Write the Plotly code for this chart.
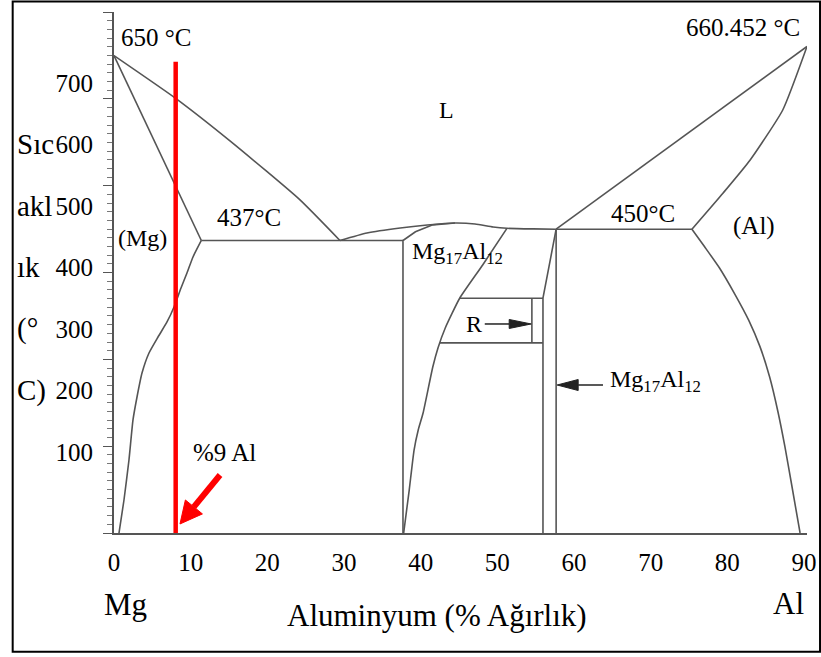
import math
import plotly.graph_objects as go

# ---------------- figure geometry ----------------
W, H = 821, 657
ML, MR, MT, MB = 114, 14, 12, 124
X_RANGE = [0, 100]          # composition scale of the drawing (at.% Al)
Y_RANGE = [100, 700.2]      # temperature, °C

# printed tick labels (their own linear scale over the same axis)
x_tick_labels = [0, 10, 20, 30, 40, 50, 60, 70, 80, 90]
x_label_range = [0, 90.39]
y_tick_labels = [100, 200, 300, 400, 500, 600, 700]
y_label_range = [-31.7, 815.4]

# ---------------- phase boundaries (x: % Al, t: °C) ----------------
mg_liquidus_x = [0, 8.9, 17, 26.8, 32.6]
mg_liquidus_t = [650, 600.7, 550, 484, 437]
mg_solidus_x = [0, 12.6]
mg_solidus_t = [650, 437]
mg_solvus_x = [12.6, 11.4, 10.53, 9.67, 8.66, 7.65, 6.35, 5.05, 4.04, 3.32, 2.74, 2.16, 1.44, 0.72]
mg_solvus_t = [437, 418, 399.5, 382.3, 360.4, 343.1, 325.8, 307.4, 284.3, 256.7, 230.2, 184.1, 138, 100]
eut1_x = [12.6, 41.7]
eut1_t = [437, 437]
gamma_left_x = [41.7, 41.7, 43.5, 46, 49.2]
gamma_left_t = [100, 437, 447, 455, 457.1]
mid_liquidus_x = [32.6, 36.5, 41.3, 45.2, 49.2, 52.1, 54.7, 56.7, 60.5, 63.8]
mid_liquidus_t = [437, 445.6, 451.4, 454.8, 457.1, 456, 452.5, 451, 450.3, 450]
gamma_right_x = [56.7, 53.2, 49.9, 47.8, 46.75, 46.0, 44.6, 43.9, 43.3, 42.6, 41.8]
gamma_right_t = [451, 408.8, 370.7, 336.2, 313.1, 291.2, 238.2, 218.7, 195.6, 149.5, 100]
r_top_x = [49.9, 61.9]
r_top_t = [370.5, 370.5]
r_bottom_x = [47.0, 61.9]
r_bottom_t = [319, 319]
r_inner_x = [60.3, 60.3]
r_inner_t = [319, 370.5]
r_right_x = [63.8, 61.9, 61.9]
r_right_t = [450, 370.5, 100]
compound_x = [63.8, 63.8]
compound_t = [450, 100]
eut2_x = [63.8, 83.4]
eut2_t = [450, 450]
al_liquidus_x = [63.8, 100]
al_liquidus_t = [450, 660.45]
al_solidus_x = [100, 96.5, 91.8, 87.9, 83.4]
al_solidus_t = [660.45, 587.3, 529.7, 491.7, 450]
al_solvus_x = [83.4, 85.2, 87.4, 89.6, 91.6, 93.2, 94.6, 95.8, 96.8, 97.8, 99.0]
al_solvus_t = [450, 430, 405, 375, 345, 315, 280, 240, 200, 155, 100]

# alloy marker (red line)
alloy_x = [8.9, 8.9]
alloy_t = [643, 100]

# arrows: (tail, tip)
red_arrow = [(15.3, 166.8), (9.52, 110.4)]
r_arrow = [(53.5, 340.8), (60.2, 340.8)]
cmp_arrow = [(70.56, 270.5), (63.95, 270.5)]

# text labels in data coordinates
label_texts = ["650 °C", "660.452 °C", "L", "437°C", "(Mg)", "450°C", "(Al)", "R", "%9 Al"]
label_x = [6.13, 90.8, 48.05, 19.5, 4.04, 76.3, 92.4, 51.9, 16.0]
label_t = [670.9, 681.8, 587.3, 462.9, 439.9, 467.5, 453.7, 340.8, 193.3]
label_size = [25, 25, 24, 25, 24, 25, 25, 24, 25]

# y-axis title pieces, aligned with printed tick labels
ytitle_parts = ["Sıc", "akl", "ık", "(°", "C)"]
ytitle_at = [600, 500, 400, 300, 200]

LINE = "#555555"
FONT = "Liberation Serif, Times New Roman, serif"

fig = go.Figure()

curves = [
    (mg_liquidus_x, mg_liquidus_t, "spline"),
    (mg_solidus_x, mg_solidus_t, "linear"),
    (mg_solvus_x, mg_solvus_t, "spline"),
    (eut1_x, eut1_t, "linear"),
    (gamma_left_x, gamma_left_t, "linear"),
    (mid_liquidus_x, mid_liquidus_t, "spline"),
    (gamma_right_x, gamma_right_t, "spline"),
    (r_top_x, r_top_t, "linear"),
    (r_bottom_x, r_bottom_t, "linear"),
    (r_inner_x, r_inner_t, "linear"),
    (r_right_x, r_right_t, "linear"),
    (compound_x, compound_t, "linear"),
    (eut2_x, eut2_t, "linear"),
    (al_liquidus_x, al_liquidus_t, "linear"),
    (al_solidus_x, al_solidus_t, "spline"),
    (al_solvus_x, al_solvus_t, "spline"),
]
for cx, ct, shp in curves:
    fig.add_trace(go.Scatter(x=cx, y=ct, mode="lines",
                             line=dict(color=LINE, width=1.6, shape=shp, smoothing=0.5),
                             hoverinfo="skip", showlegend=False))

fig.add_trace(go.Scatter(x=alloy_x, y=alloy_t, mode="lines",
                         line=dict(color="#ff0000", width=4.5),
                         hoverinfo="skip", showlegend=False))

sx = (W - ML - MR) / (X_RANGE[1] - X_RANGE[0])
sy = (H - MT - MB) / (Y_RANGE[1] - Y_RANGE[0])


def add_arrow(tail, tip, head_len, head_w, color, width):
    dx = (tip[0] - tail[0]) * sx
    dy = (tip[1] - tail[1]) * sy
    L = math.hypot(dx, dy)
    ux, uy = dx / L, dy / L
    bx = tip[0] - ux * head_len / sx
    by = tip[1] - uy * head_len / sy
    px, py = -uy, ux
    c1 = (bx + px * head_w / 2 / sx, by + py * head_w / 2 / sy)
    c2 = (bx - px * head_w / 2 / sx, by - py * head_w / 2 / sy)
    fig.add_trace(go.Scatter(x=[tail[0], bx], y=[tail[1], by], mode="lines",
                             line=dict(color=color, width=width),
                             hoverinfo="skip", showlegend=False))
    fig.add_trace(go.Scatter(x=[tip[0], c1[0], c2[0], tip[0]],
                             y=[tip[1], c1[1], c2[1], tip[1]],
                             mode="lines", fill="toself", fillcolor=color,
                             line=dict(color=color, width=1),
                             hoverinfo="skip", showlegend=False))


add_arrow(red_arrow[0], red_arrow[1], 22, 22, "#ff0000", 6)
add_arrow(r_arrow[0], r_arrow[1], 22, 9, "#222222", 1.5)
add_arrow(cmp_arrow[0], cmp_arrow[1], 21, 11, "#222222", 1.5)

annotations = []
for txt, ax_, at_, sz in zip(label_texts, label_x, label_t, label_size):
    annotations.append(dict(text=txt, x=ax_, y=at_, xref="x", yref="y",
                            showarrow=False, font=dict(family=FONT, size=sz, color="black"),
                            xanchor="center", yanchor="middle"))
annotations.append(dict(text="Mg<sub>17</sub>Al<sub>12</sub>", x=42.7, y=422.6, xref="x", yref="y",
                        showarrow=False, font=dict(family=FONT, size=24, color="black"),
                        xanchor="left", yanchor="middle"))
annotations.append(dict(text="Mg<sub>17</sub>Al<sub>12</sub>", x=71.3, y=275, xref="x", yref="y",
                        showarrow=False, font=dict(family=FONT, size=24, color="black"),
                        xanchor="left", yanchor="middle"))
for txt, yv in zip(ytitle_parts, ytitle_at):
    annotations.append(dict(text=txt, x=-0.1429, y=yv, xref="paper", yref="y2",
                            showarrow=False, font=dict(family=FONT, size=29, color="black"),
                            xanchor="left", yanchor="middle"))
annotations.append(dict(text="Mg", x=0.0166, y=-0.1363, xref="paper", yref="paper", showarrow=False,
                        font=dict(family=FONT, size=31, color="black"), xanchor="center", yanchor="middle"))
annotations.append(dict(text="Al", x=0.9726, y=-0.1344, xref="paper", yref="paper", showarrow=False,
                        font=dict(family=FONT, size=31, color="black"), xanchor="center", yanchor="middle"))
annotations.append(dict(text="Aluminyum (% Ağırlık)", x=0.466, y=-0.1593, xref="paper", yref="paper",
                        showarrow=False, font=dict(family=FONT, size=31, color="black"),
                        xanchor="center", yanchor="middle"))

shapes = [dict(type="rect", xref="paper", yref="paper", x0=-0.1462, x1=1.0188, y0=-0.2278, y1=1.0202,
               line=dict(color="black", width=2), fillcolor="rgba(0,0,0,0)", layer="above")]

# printed x labels placed on the drawing's composition scale
x_label_pos = [X_RANGE[0] + (v - x_label_range[0]) / (x_label_range[1] - x_label_range[0])
               * (X_RANGE[1] - X_RANGE[0]) for v in x_tick_labels]

fig.update_layout(
    width=W, height=H,
    margin=dict(l=ML, r=MR, t=MT, b=MB, autoexpand=False),
    plot_bgcolor="white", paper_bgcolor="white",
    hovermode=False,
    annotations=annotations, shapes=shapes,
    xaxis=dict(range=X_RANGE, showline=True, linecolor=LINE, linewidth=1.5,
               tickmode="array", tickvals=x_label_pos, ticktext=[str(v) for v in x_tick_labels],
               ticks="", showgrid=False, zeroline=False,
               tickfont=dict(family=FONT, size=25, color="black"), ticklabelstandoff=6),
    xaxis2=dict(range=X_RANGE, overlaying="x", anchor="y", side="bottom",
                ticks="outside", ticklen=9, tickwidth=1.2, tickcolor=LINE,
                tick0=0, dtick=10, showticklabels=False, showline=False, showgrid=False, zeroline=False,
                minor=dict(ticks="outside", ticklen=4, tickwidth=1, tickcolor="#777777",
                           tick0=0, dtick=1, showgrid=False)),
    xaxis3=dict(range=X_RANGE, overlaying="x", anchor="y", side="bottom",
                ticks="inside", ticklen=3, tickwidth=1, tickcolor="#777777",
                tick0=0, dtick=1, showticklabels=False, showline=False,
                showgrid=False, zeroline=False),
    yaxis=dict(range=Y_RANGE, showline=True, linecolor=LINE, linewidth=1.5,
               ticks="outside", ticklen=9, tickwidth=1.2, tickcolor=LINE,
               tick0=100, dtick=100, showticklabels=False, showgrid=False, zeroline=False,
               minor=dict(ticks="outside", ticklen=5, tickwidth=1, tickcolor="#777777",
                          tick0=100, dtick=10, showgrid=False)),
    yaxis2=dict(range=y_label_range, overlaying="y", anchor="x", side="left",
                tickmode="array", tickvals=y_tick_labels, ticktext=[str(v) for v in y_tick_labels],
                ticks="", showline=False, showgrid=False, zeroline=False,
                tickfont=dict(family=FONT, size=25, color="black"), ticklabelstandoff=20),
)

fig.write_html("out.html", config={"displayModeBar": False},
               post_script="document.body.style.margin='0';")
